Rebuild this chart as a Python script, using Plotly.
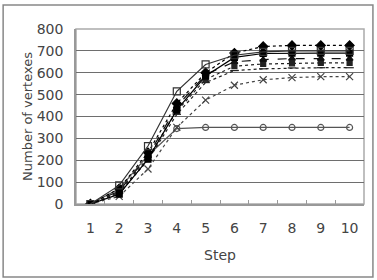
import plotly.graph_objects as go

steps = [1, 2, 3, 4, 5, 6, 7, 8, 9, 10]
s_open_square = [0, 85, 265, 515, 638, 680, 695, 700, 700, 700]
s_diamond = [0, 70, 235, 460, 600, 690, 720, 725, 725, 725]
s_filled_square = [0, 45, 205, 430, 585, 670, 688, 690, 690, 690]
s_triangle = [0, 60, 220, 445, 592, 650, 660, 665, 665, 665]
s_dot1 = [0, 55, 212, 425, 570, 630, 640, 643, 645, 645]
s_dot2 = [0, 50, 200, 410, 555, 610, 618, 622, 623, 623]
s_x = [0, 35, 160, 350, 475, 543, 568, 578, 582, 582]
s_circle = [0, 70, 222, 345, 350, 350, 350, 350, 350, 350]

series = [
    (s_circle, "solid", "circle-open", 6, "#555555"),
    (s_x, "dot", "x-thin-open", 7, "#444444"),
    (s_dot2, "dot", "line-ew-open", 6, "#222222"),
    (s_dot1, "dot", "square", 5, "#222222"),
    (s_triangle, "dash", "triangle-up", 6, "#111111"),
    (s_filled_square, "solid", "square", 6, "#000000"),
    (s_diamond, "dot", "diamond", 7, "#000000"),
    (s_open_square, "solid", "square-open", 7, "#333333"),
]

fig = go.Figure()
for ys, dash, sym, sz, col in series:
    fig.add_trace(go.Scatter(
        x=steps, y=ys, mode="lines+markers",
        line=dict(color=col, width=1.2, dash=dash),
        marker=dict(symbol=sym, size=sz, color=col, line=dict(color=col, width=1.2)),
        showlegend=False,
    ))

font_main = "DejaVu Sans"
fig.update_layout(
    width=377, height=280,
    margin=dict(l=76, r=13, t=29, b=76),
    paper_bgcolor="white", plot_bgcolor="white",
    font=dict(family=font_main, size=14, color="#444444"),
    xaxis=dict(
        range=[0.5, 10.5], tickvals=steps, ticks="", showgrid=False,
        showline=True, linecolor="#999999", linewidth=1.5, mirror=False,
        ticklabelstandoff=10, zeroline=False,
        minor=dict(tickvals=[1.5, 2.5, 3.5, 4.5, 5.5, 6.5, 7.5, 8.5, 9.5],
                   ticks="inside", ticklen=4, tickcolor="#999999", showgrid=False),
        title=dict(text="Step", font=dict(size=14, color="#444444"), standoff=16),
        tickfont=dict(size=14, color="#444444"),
    ),
    yaxis=dict(
        range=[0, 800], dtick=100, ticks="", showgrid=True,
        gridcolor="#6e6e6e", gridwidth=1.3, zeroline=False,
        showline=True, linecolor="#999999", linewidth=1.5,
        ticklabelstandoff=8,
        title=dict(text="Number of vertexes", font=dict(size=13, color="#444444"), standoff=1),
        tickfont=dict(size=14, color="#444444"),
    ),
    shapes=[
        dict(type="rect", xref="paper", yref="paper", x0=0, x1=1, y0=0, y1=1,
             line=dict(color="#aaaaaa", width=1.5), layer="below"),
        dict(type="rect", xref="paper", yref="paper", x0=-0.253, x1=1.031, y0=-0.417, y1=1.137,
             line=dict(color="#888888", width=1.5)),
    ],
)

fig.write_html("out.html")
